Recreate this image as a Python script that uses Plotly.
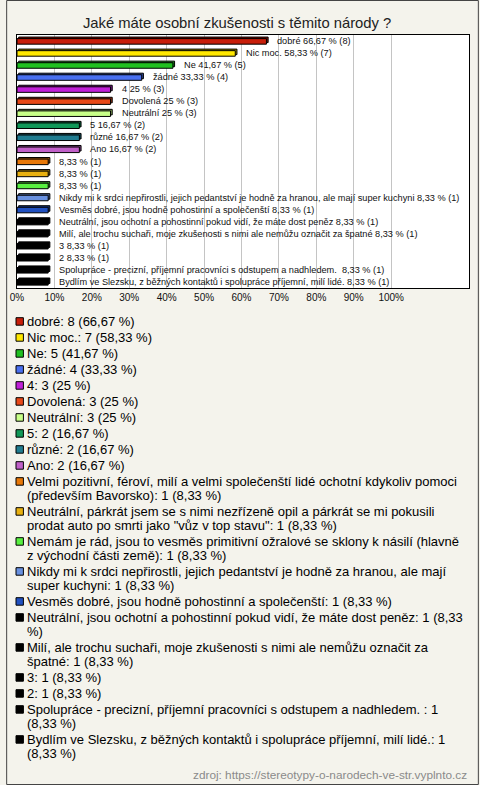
import plotly.graph_objects as go

# ---------------- data ----------------
title_text = "Jaké máte osobní zkušenosti s těmito národy ?"
source_text = "zdroj: https://stereotypy-o-narodech-ve-str.vyplnto.cz"
n_respondents = 12

categories = [
    "dobré",
    "Nic moc.",
    "Ne",
    "žádné",
    "4",
    "Dovolená",
    "Neutrální",
    "5",
    "různé",
    "Ano",
    "Velmi pozitivní, féroví, milí a velmi společenští lidé ochotní kdykoliv pomoci (především Bavorsko)",
    "Neutrální, párkrát jsem se s nimi nezřízeně opil a párkrát se mi pokusili prodat auto po smrti jako \"vůz v top stavu\"",
    "Nemám je rád, jsou to vesměs primitivní ožralové se sklony k násilí (hlavně z východní části země)",
    "Nikdy mi k srdci nepřirostli, jejich pedantství je hodně za hranou, ale mají super kuchyni",
    "Vesměs dobré, jsou hodně pohostinní a společenští",
    "Neutrální, jsou ochotní a pohostinní pokud vidí, že máte dost peněz",
    "Milí, ale trochu suchaři, moje zkušenosti s nimi ale nemůžu označit za špatné",
    "3",
    "2",
    "Spolupráce - precizní, příjemní pracovníci s odstupem a nadhledem. ",
    "Bydlím ve Slezsku, z běžných kontaktů i spolupráce příjemní, milí lidé.",
]
counts = [8, 7, 5, 4, 3, 3, 3, 2, 2, 2, 1, 1, 1, 1, 1, 1, 1, 1, 1, 1, 1]

# labels written next to the bars (the three longest answers are omitted)
bar_names = list(categories)
bar_names[10] = ""
bar_names[11] = ""
bar_names[12] = ""

colors = [
    "#c81e0a", "#ffe800", "#20c020", "#4a70f0", "#c020d8", "#e84818",
    "#c8ff88", "#109858", "#207c90", "#c060c8", "#e87808", "#e8b010",
    "#58f040", "#6890e0", "#2050c0",
    "#000000", "#000000", "#000000", "#000000", "#000000", "#000000",
]

tick_vals = [0, 10, 20, 30, 40, 50, 60, 70, 80, 90, 100]
tick_text = ["0%", "10%", "20%", "30%", "40%", "50%", "60%", "70%", "80%", "90%", "100%"]

# first line of legend items that wrap onto two lines
legend_first_lines = {
    10: "Velmi pozitivní, féroví, milí a velmi společenští lidé ochotní kdykoliv pomoci",
    11: "Neutrální, párkrát jsem se s nimi nezřízeně opil a párkrát se mi pokusili",
    12: "Nemám je rád, jsou to vesměs primitivní ožralové se sklony k násilí (hlavně",
    13: "Nikdy mi k srdci nepřirostli, jejich pedantství je hodně za hranou, ale mají",
    15: "Neutrální, jsou ochotní a pohostinní pokud vidí, že máte dost peněz: 1 (8,33",
    16: "Milí, ale trochu suchaři, moje zkušenosti s nimi ale nemůžu označit za",
    19: "Spolupráce - precizní, příjemní pracovníci s odstupem a nadhledem. : 1",
    20: "Bydlím ve Slezsku, z běžných kontaktů i spolupráce příjemní, milí lidé.: 1",
}

# ---------------- helpers ----------------
W, H = 480, 785
L, R, T, B = 11, 470, 35, 288  # plot area in pixels
FONT = "Liberation Sans, Arial, sans-serif"


def fmt_pct(c):
    p = c / n_respondents * 100
    s = f"{p:.2f}".rstrip("0").rstrip(".")
    return s.replace(".", ",")


def darken(hexc, f=0.65):
    r = int(hexc[1:3], 16); g = int(hexc[3:5], 16); b = int(hexc[5:7], 16)
    return "#%02x%02x%02x" % (int(r * f), int(g * f), int(b * f))


def px_x(px):
    return (px - L) / (R - L)


def px_y(py):
    return (B - py) / (B - T)


pcts = [c / n_respondents * 100 for c in counts]
pct_txt = [fmt_pct(c) for c in counts]
rows = list(range(len(categories)))  # row index of each answer

fig = go.Figure()

# depth (3D back face) of the bars
fig.add_trace(go.Bar(
    y=rows, x=pcts, orientation="h", base=0.45,
    width=0.46, offset=-0.33,
    marker=dict(color=[darken(c) for c in colors], line=dict(color="#000000", width=1)),
    hoverinfo="skip", showlegend=False,
))
# front face
fig.add_trace(go.Bar(
    y=rows, x=pcts, orientation="h",
    width=0.46, offset=-0.2,
    marker=dict(color=colors, line=dict(color="#000000", width=1)),
    customdata=categories, hovertemplate="%{customdata}: %{x:.2f} %<extra></extra>",
    showlegend=False,
))

annotations = []
# bar labels
for r, name, p, pt, c in zip(rows, bar_names, pcts, pct_txt, counts):
    txt = (f"{name} {pt} % ({c})").strip()
    annotations.append(dict(
        x=p, y=r, xref="x", yref="y",
        text=txt, showarrow=False, xanchor="left", yanchor="middle",
        xshift=9, font=dict(family=FONT, size=9.2, color="#111111"),
    ))

# legend drawn as text lines with colour squares
shapes = []
y = 321.5
step_item = 16.0
step_line = 14.0
for i, (name, c, pt, col) in enumerate(zip(categories, counts, pct_txt, colors)):
    full = f"{name}: {c} ({pt} %)"
    if i in legend_first_lines:
        first = legend_first_lines[i]
        lines = [first, full[len(first):].strip()]
    else:
        lines = [full]
    shapes.append(dict(
        type="rect", xref="paper", yref="paper",
        x0=px_x(10), x1=px_x(17.5), y0=px_y(y + 3.7), y1=px_y(y - 3.8),
        fillcolor=col, line=dict(color="#000000", width=1),
    ))
    for j, ln in enumerate(lines):
        annotations.append(dict(
            x=px_x(19.5), y=px_y(y), xref="paper", yref="paper",
            text=ln, showarrow=False, xanchor="left", yanchor="middle",
            font=dict(family=FONT, size=13, color="#000000"),
        ))
        if j < len(lines) - 1:
            y += step_line
    y += step_item

# source
annotations.append(dict(
    x=px_x(470), y=px_y(775), xref="paper", yref="paper",
    text=source_text, showarrow=False, xanchor="right", yanchor="middle",
    font=dict(family=FONT, size=11.8, color="#8a8a8a"),
))

# outer frame of the whole picture
shapes.append(dict(
    type="rect", xref="paper", yref="paper",
    x0=px_x(0.5), x1=px_x(W - 0.5), y0=px_y(H - 0.5), y1=px_y(0.5),
    line=dict(color="#444444", width=1), fillcolor="rgba(0,0,0,0)", layer="below",
))

fig.update_layout(
    width=W, height=H,
    margin=dict(l=L, r=W - R, t=T, b=H - B),
    paper_bgcolor="#f4f3ec",
    plot_bgcolor="#ffffff",
    barmode="overlay",
    showlegend=False,
    title=dict(text=title_text, x=0.494, xanchor="center", y=1 - 23 / H, yanchor="middle",
               yref="container", font=dict(family=FONT, size=14.8, color="#222222")),
    xaxis=dict(range=[0, 120.8], tickvals=tick_vals, ticktext=tick_text,
               showgrid=True, gridcolor="#c4c4c4", gridwidth=1, zeroline=False,
               showline=True, linecolor="#000000", linewidth=1, mirror=True,
               ticks="", tickfont=dict(family=FONT, size=10, color="#111111"),
               fixedrange=True),
    yaxis=dict(type="linear", range=[20.5, -0.5],
               showticklabels=False, showgrid=False, zeroline=False,
               showline=True, linecolor="#000000", linewidth=1, mirror=True,
               ticks="", fixedrange=True),
    annotations=annotations,
    shapes=shapes,
)

fig.write_html("out.html", config={"displayModeBar": False},
               post_script="document.body.style.margin='0';")
